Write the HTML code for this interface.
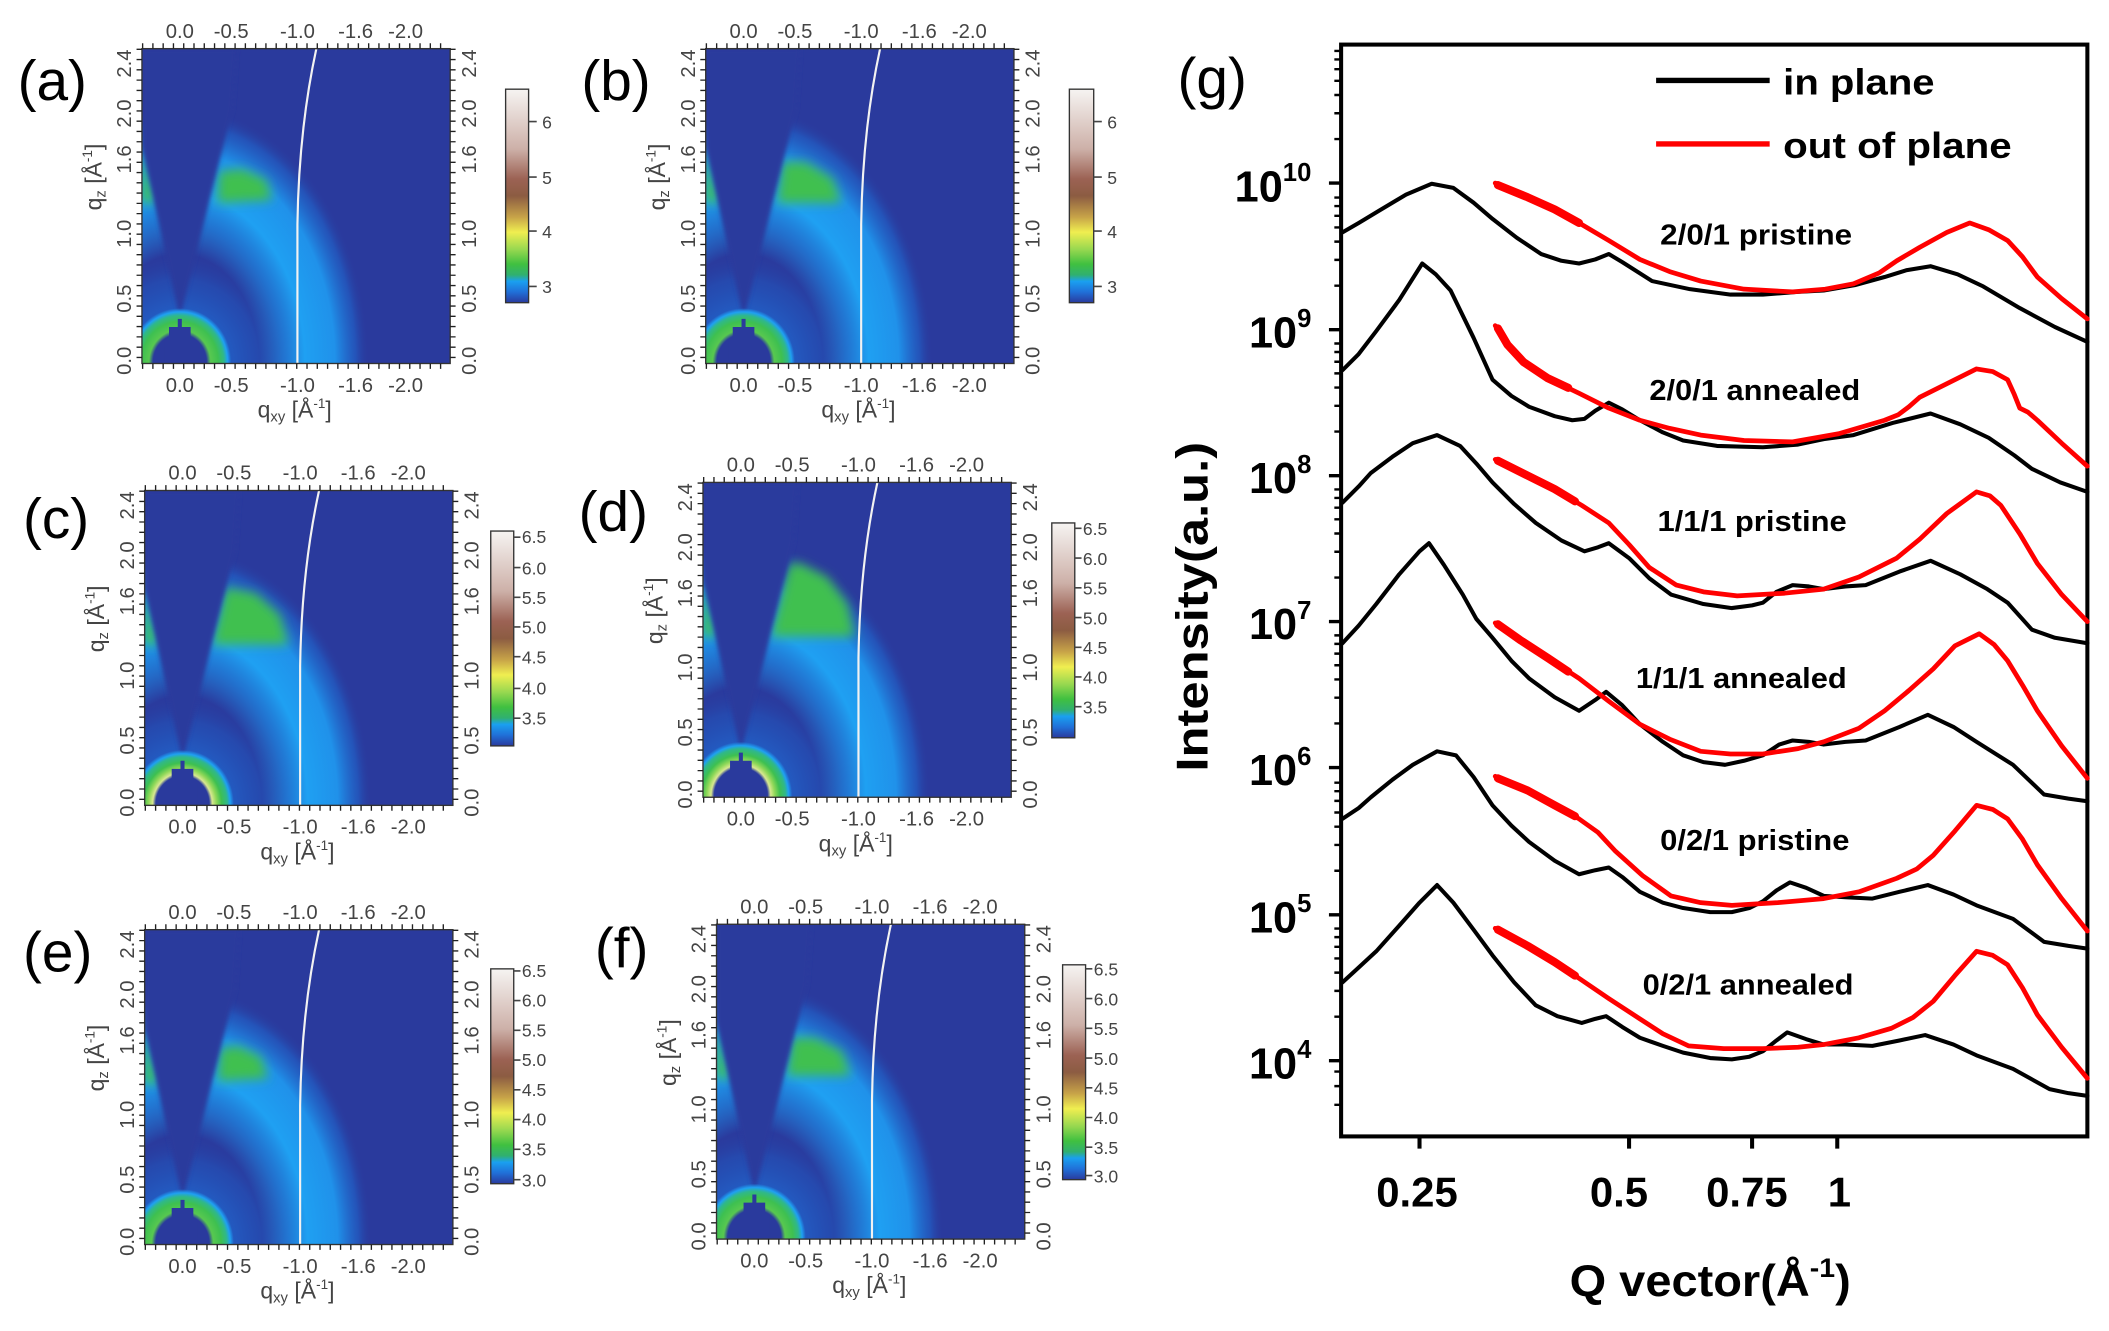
<!DOCTYPE html>
<html><head><meta charset="utf-8"><style>
html,body{margin:0;padding:0;background:#fff;width:2109px;height:1331px;overflow:hidden;}
svg{display:block;}
text{font-family:"Liberation Sans",Arial,sans-serif;}
.tl{font-size:15px;fill:#444;text-anchor:middle;}
.pl{font-size:42px;fill:#000;}
.cb{font-size:13px;fill:#444;}
.gb{font-weight:bold;fill:#000;}
</style></head><body>
<svg width="2109" height="1331" viewBox="0 0 1560 985" preserveAspectRatio="none" xmlns="http://www.w3.org/2000/svg" xmlns:xlink="http://www.w3.org/1999/xlink">
<defs>
<clipPath id="pc"><rect x="0" y="0" width="228" height="233"/></clipPath>
<filter id="bl" x="-30%" y="-30%" width="160%" height="160%"><feGaussianBlur stdDeviation="4"/></filter>
<filter id="bl2" x="-30%" y="-30%" width="160%" height="160%"><feGaussianBlur stdDeviation="1.5"/></filter>
<radialGradient id="ringG">
<stop offset="0" stop-color="#1fa0f2" stop-opacity="0"/>
<stop offset="0.42" stop-color="#1fa0f2" stop-opacity="0"/>
<stop offset="0.55" stop-color="#1e8ce6" stop-opacity="0.7"/>
<stop offset="0.66" stop-color="#1fa0f2" stop-opacity="1"/>
<stop offset="0.82" stop-color="#1f96ee" stop-opacity="0.95"/>
<stop offset="0.93" stop-color="#2065cc" stop-opacity="0.6"/>
<stop offset="1" stop-color="#2a3a9d" stop-opacity="0"/>
</radialGradient>
<radialGradient id="halo">
<stop offset="0.4" stop-color="#1f70d8" stop-opacity="0.7"/>
<stop offset="0.75" stop-color="#1f60c8" stop-opacity="0.4"/>
<stop offset="1" stop-color="#2a3a9d" stop-opacity="0"/>
</radialGradient>
<radialGradient id="srG">
<stop offset="0" stop-color="#2a3a9d"/>
<stop offset="0.52" stop-color="#2a3a9d"/>
<stop offset="0.6" stop-color="#58c850"/>
<stop offset="0.75" stop-color="#3ec050"/>
<stop offset="0.86" stop-color="#2fb88a"/>
<stop offset="0.93" stop-color="#1fa0f2"/>
<stop offset="1" stop-color="#1fa0f2" stop-opacity="0"/>
</radialGradient>
<radialGradient id="srY">
<stop offset="0" stop-color="#2a3a9d"/>
<stop offset="0.52" stop-color="#2a3a9d"/>
<stop offset="0.58" stop-color="#d8e890"/>
<stop offset="0.66" stop-color="#90d858"/>
<stop offset="0.76" stop-color="#3ec050"/>
<stop offset="0.87" stop-color="#2fb88a"/>
<stop offset="0.93" stop-color="#1fa0f2"/>
<stop offset="1" stop-color="#1fa0f2" stop-opacity="0"/>
</radialGradient>
<linearGradient id="cbg" x1="0" y1="0" x2="0" y2="1">
<stop offset="0" stop-color="#f6f4f2"/>
<stop offset="0.28" stop-color="#cdb0a8"/>
<stop offset="0.42" stop-color="#9c6254"/>
<stop offset="0.5" stop-color="#8c5c42"/>
<stop offset="0.6" stop-color="#c8a448"/>
<stop offset="0.67" stop-color="#f0ee50"/>
<stop offset="0.75" stop-color="#98d850"/>
<stop offset="0.82" stop-color="#40c040"/>
<stop offset="0.87" stop-color="#30b070"/>
<stop offset="0.9" stop-color="#1aa0f0"/>
<stop offset="0.95" stop-color="#2070d8"/>
<stop offset="1" stop-color="#2a3a9d"/>
</linearGradient>
<g id="base">
<rect x="0" y="0" width="228" height="233" fill="#2a3a9d"/>
<ellipse cx="28" cy="232" rx="78" ry="82" fill="url(#halo)"/>
<ellipse cx="28" cy="232" rx="140" ry="190" fill="url(#ringG)"/>
<polygon points="0,114 10,114 0,73" fill="#40c050" filter="url(#bl)"/>
</g>
<g id="wedge">
<polygon points="28,200 0,73 0,0 70,0 67,45" fill="#2a3a9d" filter="url(#bl2)"/>
</g>
<g id="top">
<line x1="28" y1="200" x2="28" y2="233" stroke="#2a3a9d" stroke-width="3"/>
<polygon points="17,233 17,215 20,215 20,206 36,206 36,215 39,215 39,233" fill="#2a3a9d"/>
<path d="M115,233 L115,130 Q116,60 129,0" fill="none" stroke="#f2f2f2" stroke-width="1.6"/>
</g>
<g id="frame">
<rect x="0" y="0" width="228" height="233" fill="none" stroke="#333" stroke-width="1"/>
<line x1="0" y1="-2" x2="228" y2="-2" stroke="#222" stroke-width="4" stroke-dasharray="1 6.6"/>
<line x1="0" y1="235" x2="228" y2="235" stroke="#222" stroke-width="4" stroke-dasharray="1 6.6"/>
<line x1="-2" y1="0" x2="-2" y2="233" stroke="#222" stroke-width="4" stroke-dasharray="1 6.6"/>
<line x1="230" y1="0" x2="230" y2="233" stroke="#222" stroke-width="4" stroke-dasharray="1 6.6"/>
</g>
</defs>

<!-- Panel a -->
<g transform="translate(105,36)">
<g clip-path="url(#pc)"><use xlink:href="#base"/>
<polygon points="56,114 96,112 92,97 74,89 57,91" fill="#40c050" filter="url(#bl)"/>
<use xlink:href="#wedge"/><ellipse cx="28" cy="232" rx="38" ry="40" fill="url(#srG)"/><use xlink:href="#top"/></g>
<use xlink:href="#frame"/>
<g class="tl"><text x="28" y="-8">0.0</text><text x="66" y="-8">-0.5</text><text x="115" y="-8">-1.0</text><text x="158" y="-8">-1.6</text><text x="195" y="-8">-2.0</text>
<text x="28" y="254">0.0</text><text x="66" y="254">-0.5</text><text x="115" y="254">-1.0</text><text x="158" y="254">-1.6</text><text x="195" y="254">-2.0</text>
<text transform="translate(-8,231) rotate(-90)">0.0</text><text transform="translate(-8,185) rotate(-90)">0.5</text><text transform="translate(-8,137) rotate(-90)">1.0</text><text transform="translate(-8,82) rotate(-90)">1.6</text><text transform="translate(-8,48) rotate(-90)">2.0</text><text transform="translate(-8,11) rotate(-90)">2.4</text>
<text transform="translate(247,231) rotate(-90)">0.0</text><text transform="translate(247,185) rotate(-90)">0.5</text><text transform="translate(247,137) rotate(-90)">1.0</text><text transform="translate(247,82) rotate(-90)">1.6</text><text transform="translate(247,48) rotate(-90)">2.0</text><text transform="translate(247,11) rotate(-90)">2.4</text>
<text x="113" y="273" style="font-size:17px">q<tspan dy="3" font-size="11">xy</tspan><tspan dy="-3"> [Å</tspan><tspan dy="-7" font-size="10">-1</tspan><tspan dy="7">]</tspan></text>
<text transform="translate(-30,95) rotate(-90)" style="font-size:17px">q<tspan dy="3" font-size="11">z</tspan><tspan dy="-3"> [Å</tspan><tspan dy="-7" font-size="10">-1</tspan><tspan dy="7">]</tspan></text></g>
</g>
<text class="pl" x="13" y="74">(a)</text>

<!-- Panel b -->
<g transform="translate(522,36)">
<g clip-path="url(#pc)"><use xlink:href="#base"/>
<polygon points="53,114 100,114 94,96 74,84 57,84" fill="#40c050" filter="url(#bl)"/>
<use xlink:href="#wedge"/><ellipse cx="28" cy="232" rx="38" ry="40" fill="url(#srG)"/><use xlink:href="#top"/></g>
<use xlink:href="#frame"/>
<g class="tl"><text x="28" y="-8">0.0</text><text x="66" y="-8">-0.5</text><text x="115" y="-8">-1.0</text><text x="158" y="-8">-1.6</text><text x="195" y="-8">-2.0</text>
<text x="28" y="254">0.0</text><text x="66" y="254">-0.5</text><text x="115" y="254">-1.0</text><text x="158" y="254">-1.6</text><text x="195" y="254">-2.0</text>
<text transform="translate(-8,231) rotate(-90)">0.0</text><text transform="translate(-8,185) rotate(-90)">0.5</text><text transform="translate(-8,137) rotate(-90)">1.0</text><text transform="translate(-8,82) rotate(-90)">1.6</text><text transform="translate(-8,48) rotate(-90)">2.0</text><text transform="translate(-8,11) rotate(-90)">2.4</text>
<text transform="translate(247,231) rotate(-90)">0.0</text><text transform="translate(247,185) rotate(-90)">0.5</text><text transform="translate(247,137) rotate(-90)">1.0</text><text transform="translate(247,82) rotate(-90)">1.6</text><text transform="translate(247,48) rotate(-90)">2.0</text><text transform="translate(247,11) rotate(-90)">2.4</text>
<text x="113" y="273" style="font-size:17px">q<tspan dy="3" font-size="11">xy</tspan><tspan dy="-3"> [Å</tspan><tspan dy="-7" font-size="10">-1</tspan><tspan dy="7">]</tspan></text>
<text transform="translate(-30,95) rotate(-90)" style="font-size:17px">q<tspan dy="3" font-size="11">z</tspan><tspan dy="-3"> [Å</tspan><tspan dy="-7" font-size="10">-1</tspan><tspan dy="7">]</tspan></text></g>
</g>
<text class="pl" x="430" y="74">(b)</text>

<!-- Panel c -->
<g transform="translate(107,363)">
<g clip-path="url(#pc)"><use xlink:href="#base"/>
<polygon points="50,114 106,114 100,92 82,76 60,72" fill="#40c050" filter="url(#bl)"/>
<use xlink:href="#wedge"/><ellipse cx="28" cy="232" rx="38" ry="40" fill="url(#srY)"/><use xlink:href="#top"/></g>
<use xlink:href="#frame"/>
<g class="tl"><text x="28" y="-8">0.0</text><text x="66" y="-8">-0.5</text><text x="115" y="-8">-1.0</text><text x="158" y="-8">-1.6</text><text x="195" y="-8">-2.0</text>
<text x="28" y="254">0.0</text><text x="66" y="254">-0.5</text><text x="115" y="254">-1.0</text><text x="158" y="254">-1.6</text><text x="195" y="254">-2.0</text>
<text transform="translate(-8,231) rotate(-90)">0.0</text><text transform="translate(-8,185) rotate(-90)">0.5</text><text transform="translate(-8,137) rotate(-90)">1.0</text><text transform="translate(-8,82) rotate(-90)">1.6</text><text transform="translate(-8,48) rotate(-90)">2.0</text><text transform="translate(-8,11) rotate(-90)">2.4</text>
<text transform="translate(247,231) rotate(-90)">0.0</text><text transform="translate(247,185) rotate(-90)">0.5</text><text transform="translate(247,137) rotate(-90)">1.0</text><text transform="translate(247,82) rotate(-90)">1.6</text><text transform="translate(247,48) rotate(-90)">2.0</text><text transform="translate(247,11) rotate(-90)">2.4</text>
<text x="113" y="273" style="font-size:17px">q<tspan dy="3" font-size="11">xy</tspan><tspan dy="-3"> [Å</tspan><tspan dy="-7" font-size="10">-1</tspan><tspan dy="7">]</tspan></text>
<text transform="translate(-30,95) rotate(-90)" style="font-size:17px">q<tspan dy="3" font-size="11">z</tspan><tspan dy="-3"> [Å</tspan><tspan dy="-7" font-size="10">-1</tspan><tspan dy="7">]</tspan></text></g>
</g>
<text class="pl" x="17" y="398">(c)</text>

<!-- Panel d -->
<g transform="translate(520,357)">
<g clip-path="url(#pc)"><use xlink:href="#base"/>
<polygon points="50,114 112,114 107,90 92,70 72,60 64,60" fill="#40c050" filter="url(#bl)"/>
<use xlink:href="#wedge"/><ellipse cx="28" cy="232" rx="38" ry="40" fill="url(#srY)"/><use xlink:href="#top"/></g>
<use xlink:href="#frame"/>
<g class="tl"><text x="28" y="-8">0.0</text><text x="66" y="-8">-0.5</text><text x="115" y="-8">-1.0</text><text x="158" y="-8">-1.6</text><text x="195" y="-8">-2.0</text>
<text x="28" y="254">0.0</text><text x="66" y="254">-0.5</text><text x="115" y="254">-1.0</text><text x="158" y="254">-1.6</text><text x="195" y="254">-2.0</text>
<text transform="translate(-8,231) rotate(-90)">0.0</text><text transform="translate(-8,185) rotate(-90)">0.5</text><text transform="translate(-8,137) rotate(-90)">1.0</text><text transform="translate(-8,82) rotate(-90)">1.6</text><text transform="translate(-8,48) rotate(-90)">2.0</text><text transform="translate(-8,11) rotate(-90)">2.4</text>
<text transform="translate(247,231) rotate(-90)">0.0</text><text transform="translate(247,185) rotate(-90)">0.5</text><text transform="translate(247,137) rotate(-90)">1.0</text><text transform="translate(247,82) rotate(-90)">1.6</text><text transform="translate(247,48) rotate(-90)">2.0</text><text transform="translate(247,11) rotate(-90)">2.4</text>
<text x="113" y="273" style="font-size:17px">q<tspan dy="3" font-size="11">xy</tspan><tspan dy="-3"> [Å</tspan><tspan dy="-7" font-size="10">-1</tspan><tspan dy="7">]</tspan></text>
<text transform="translate(-30,95) rotate(-90)" style="font-size:17px">q<tspan dy="3" font-size="11">z</tspan><tspan dy="-3"> [Å</tspan><tspan dy="-7" font-size="10">-1</tspan><tspan dy="7">]</tspan></text></g>
</g>
<text class="pl" x="428" y="393">(d)</text>

<!-- Panel e -->
<g transform="translate(107,688)">
<g clip-path="url(#pc)"><use xlink:href="#base"/>
<polygon points="54,112 91,110 86,94 69,86 56,88" fill="#40c050" filter="url(#bl)"/>
<use xlink:href="#wedge"/><ellipse cx="28" cy="232" rx="38" ry="40" fill="url(#srG)"/><use xlink:href="#top"/></g>
<use xlink:href="#frame"/>
<g class="tl"><text x="28" y="-8">0.0</text><text x="66" y="-8">-0.5</text><text x="115" y="-8">-1.0</text><text x="158" y="-8">-1.6</text><text x="195" y="-8">-2.0</text>
<text x="28" y="254">0.0</text><text x="66" y="254">-0.5</text><text x="115" y="254">-1.0</text><text x="158" y="254">-1.6</text><text x="195" y="254">-2.0</text>
<text transform="translate(-8,231) rotate(-90)">0.0</text><text transform="translate(-8,185) rotate(-90)">0.5</text><text transform="translate(-8,137) rotate(-90)">1.0</text><text transform="translate(-8,82) rotate(-90)">1.6</text><text transform="translate(-8,48) rotate(-90)">2.0</text><text transform="translate(-8,11) rotate(-90)">2.4</text>
<text transform="translate(247,231) rotate(-90)">0.0</text><text transform="translate(247,185) rotate(-90)">0.5</text><text transform="translate(247,137) rotate(-90)">1.0</text><text transform="translate(247,82) rotate(-90)">1.6</text><text transform="translate(247,48) rotate(-90)">2.0</text><text transform="translate(247,11) rotate(-90)">2.4</text>
<text x="113" y="273" style="font-size:17px">q<tspan dy="3" font-size="11">xy</tspan><tspan dy="-3"> [Å</tspan><tspan dy="-7" font-size="10">-1</tspan><tspan dy="7">]</tspan></text>
<text transform="translate(-30,95) rotate(-90)" style="font-size:17px">q<tspan dy="3" font-size="11">z</tspan><tspan dy="-3"> [Å</tspan><tspan dy="-7" font-size="10">-1</tspan><tspan dy="7">]</tspan></text></g>
</g>
<text class="pl" x="17" y="719">(e)</text>

<!-- Panel f -->
<g transform="translate(530,684)">
<g clip-path="url(#pc)"><use xlink:href="#base"/>
<polygon points="52,112 99,112 93,94 73,84 56,84" fill="#40c050" filter="url(#bl)"/>
<use xlink:href="#wedge"/><ellipse cx="28" cy="232" rx="38" ry="40" fill="url(#srG)"/><use xlink:href="#top"/></g>
<use xlink:href="#frame"/>
<g class="tl"><text x="28" y="-8">0.0</text><text x="66" y="-8">-0.5</text><text x="115" y="-8">-1.0</text><text x="158" y="-8">-1.6</text><text x="195" y="-8">-2.0</text>
<text x="28" y="254">0.0</text><text x="66" y="254">-0.5</text><text x="115" y="254">-1.0</text><text x="158" y="254">-1.6</text><text x="195" y="254">-2.0</text>
<text transform="translate(-8,231) rotate(-90)">0.0</text><text transform="translate(-8,185) rotate(-90)">0.5</text><text transform="translate(-8,137) rotate(-90)">1.0</text><text transform="translate(-8,82) rotate(-90)">1.6</text><text transform="translate(-8,48) rotate(-90)">2.0</text><text transform="translate(-8,11) rotate(-90)">2.4</text>
<text transform="translate(247,231) rotate(-90)">0.0</text><text transform="translate(247,185) rotate(-90)">0.5</text><text transform="translate(247,137) rotate(-90)">1.0</text><text transform="translate(247,82) rotate(-90)">1.6</text><text transform="translate(247,48) rotate(-90)">2.0</text><text transform="translate(247,11) rotate(-90)">2.4</text>
<text x="113" y="273" style="font-size:17px">q<tspan dy="3" font-size="11">xy</tspan><tspan dy="-3"> [Å</tspan><tspan dy="-7" font-size="10">-1</tspan><tspan dy="7">]</tspan></text>
<text transform="translate(-30,95) rotate(-90)" style="font-size:17px">q<tspan dy="3" font-size="11">z</tspan><tspan dy="-3"> [Å</tspan><tspan dy="-7" font-size="10">-1</tspan><tspan dy="7">]</tspan></text></g>
</g>
<text class="pl" x="440" y="716">(f)</text>

<!-- Colorbars -->
<g stroke="#333" stroke-width="1">
<rect x="374" y="66" width="17" height="158" fill="url(#cbg)"/>
<rect x="791" y="66" width="18" height="158" fill="url(#cbg)"/>
<rect x="363" y="393" width="17" height="159" fill="url(#cbg)"/>
<rect x="778" y="387" width="17" height="159" fill="url(#cbg)"/>
<rect x="363" y="717" width="17" height="159" fill="url(#cbg)"/>
<rect x="786" y="714" width="17" height="159" fill="url(#cbg)"/>
</g>
<g stroke="#444" stroke-width="1.2">
<path d="M391,90h6M391,131h6M391,171h6M391,212h6"/>
<path d="M809,90h6M809,131h6M809,171h6M809,212h6"/>
<path d="M380,397.5h5M380,420h5M380,442h5M380,464h5M380,486h5M380,509.5h5M380,531.5h5"/>
<path d="M795,391h5M795,413h5M795,435h5M795,457h5M795,479h5M795,501h5M795,523h5"/>
<path d="M380,718.5h5M380,740.5h5M380,762.5h5M380,784.5h5M380,806.5h5M380,828.5h5M380,850.5h5M380,873h5"/>
<path d="M803,717h5M803,739h5M803,761h5M803,783h5M803,805h5M803,827h5M803,849h5M803,870h5"/>
</g>
<g class="cb">
<text x="401" y="95">6</text><text x="401" y="136">5</text><text x="401" y="176">4</text><text x="401" y="217">3</text>
<text x="819" y="95">6</text><text x="819" y="136">5</text><text x="819" y="176">4</text><text x="819" y="217">3</text>
<text x="386" y="402">6.5</text><text x="386" y="425">6.0</text><text x="386" y="447">5.5</text><text x="386" y="469">5.0</text><text x="386" y="491">4.5</text><text x="386" y="514">4.0</text><text x="386" y="536">3.5</text>
<text x="801" y="396">6.5</text><text x="801" y="418">6.0</text><text x="801" y="440">5.5</text><text x="801" y="462">5.0</text><text x="801" y="484">4.5</text><text x="801" y="506">4.0</text><text x="801" y="528">3.5</text>
<text x="386" y="723">6.5</text><text x="386" y="745">6.0</text><text x="386" y="767">5.5</text><text x="386" y="789">5.0</text><text x="386" y="811">4.5</text><text x="386" y="833">4.0</text><text x="386" y="855">3.5</text><text x="386" y="878">3.0</text>
<text x="809" y="722">6.5</text><text x="809" y="744">6.0</text><text x="809" y="766">5.5</text><text x="809" y="788">5.0</text><text x="809" y="810">4.5</text><text x="809" y="832">4.0</text><text x="809" y="854">3.5</text><text x="809" y="875">3.0</text>
</g>

<!-- Panel g -->
<text class="pl" x="871" y="72">(g)</text>
<rect x="992" y="33" width="552" height="808" fill="none" stroke="#000" stroke-width="3"/>
<g stroke="#000" stroke-width="2.5">
<path d="M983,135.5h9M983,244h9M983,352h9M983,460h9M983,568h9M983,677h9M983,785h9"/>
</g>
<g stroke="#000" stroke-width="1.8">
<path d="M987,102.9h5M987,83.8h5M987,70.3h5M987,59.8h5M987,51.2h5M987,44h5M987,37.7h5
M987,211.4h5M987,192.3h5M987,178.8h5M987,168.3h5M987,159.7h5M987,152.5h5M987,146.2h5
M987,319.4h5M987,300.3h5M987,286.8h5M987,276.3h5M987,267.7h5M987,260.5h5M987,254.2h5
M987,427.4h5M987,408.3h5M987,394.8h5M987,384.3h5M987,375.7h5M987,368.5h5M987,362.2h5
M987,535.4h5M987,516.3h5M987,502.8h5M987,492.3h5M987,483.7h5M987,476.5h5M987,470.2h5
M987,644.4h5M987,625.3h5M987,611.8h5M987,601.3h5M987,592.7h5M987,585.5h5M987,579.2h5
M987,752.4h5M987,733.3h5M987,719.8h5M987,709.3h5M987,700.7h5M987,693.5h5M987,687.2h5
M987,817.6h5M987,803.8h5M987,793h5"/>
</g>
<g stroke="#000" stroke-width="3"><path d="M1050,841v9M1205,841v9M1296,841v9M1359,841v9"/></g>
<g class="gb" style="font-size:32px" text-anchor="end">
<text x="970" y="149">10<tspan dy="-15" font-size="19">10</tspan></text>
<text x="970" y="257">10<tspan dy="-15" font-size="19">9</tspan></text>
<text x="970" y="365">10<tspan dy="-15" font-size="19">8</tspan></text>
<text x="970" y="473">10<tspan dy="-15" font-size="19">7</tspan></text>
<text x="970" y="581">10<tspan dy="-15" font-size="19">6</tspan></text>
<text x="970" y="690">10<tspan dy="-15" font-size="19">5</tspan></text>
<text x="970" y="798">10<tspan dy="-15" font-size="19">4</tspan></text>
</g>
<g class="gb" style="font-size:31px">
<text x="1018" y="893">0.25</text><text x="1176" y="893">0.5</text><text x="1262" y="893">0.75</text><text x="1352" y="893">1</text>
</g>
<text class="gb" style="font-size:33px" x="1161" y="959" textLength="208" lengthAdjust="spacingAndGlyphs">Q vector(Å<tspan dy="-14" font-size="20">-1</tspan><tspan dy="14">)</tspan></text>
<text class="gb" style="font-size:33px" transform="translate(893,449) rotate(-90)" text-anchor="middle" textLength="244" lengthAdjust="spacingAndGlyphs">Intensity(a.u.)</text>

<!-- legend -->
<line x1="1225" y1="59.5" x2="1309" y2="59.5" stroke="#000" stroke-width="4"/>
<line x1="1225" y1="106.5" x2="1309" y2="106.5" stroke="#f00" stroke-width="4"/>
<text class="gb" style="font-size:27px" x="1319" y="70" textLength="112" lengthAdjust="spacingAndGlyphs">in plane</text>
<text class="gb" style="font-size:27px" x="1319" y="117" textLength="169" lengthAdjust="spacingAndGlyphs">out of plane</text>

<g class="gb" style="font-size:21px">
<text x="1228" y="181" textLength="142" lengthAdjust="spacingAndGlyphs">2/0/1 pristine</text>
<text x="1220" y="296" textLength="156" lengthAdjust="spacingAndGlyphs">2/0/1 annealed</text>
<text x="1226" y="393" textLength="140" lengthAdjust="spacingAndGlyphs">1/1/1 pristine</text>
<text x="1210" y="509" textLength="156" lengthAdjust="spacingAndGlyphs">1/1/1 annealed</text>
<text x="1228" y="629" textLength="140" lengthAdjust="spacingAndGlyphs">0/2/1 pristine</text>
<text x="1215" y="736" textLength="156" lengthAdjust="spacingAndGlyphs">0/2/1 annealed</text>
</g>

<g fill="none" stroke-linejoin="round" stroke-linecap="round">
<g stroke="#000" stroke-width="3">
<polyline points="993,172 1005,165 1020,156 1040,144 1059,136 1075,139 1090,150 1104,162 1122,176 1140,188 1155,193 1168,195 1180,192 1190,188 1200,194 1222,208 1250,214 1280,218 1304,218 1330,216 1349,215 1372,211 1394,205 1410,200 1428,197 1448,203 1467,212 1494,228 1520,242 1544,253"/>
<polyline points="993,274 1005,262 1018,245 1035,222 1052,195 1062,203 1073,215 1090,250 1104,281 1118,293 1131,301 1150,308 1163,311 1172,310 1180,304 1190,298 1200,303 1213,311 1230,320 1245,326 1270,330 1304,331 1330,329 1349,325 1371,322 1400,313 1428,306 1450,314 1471,324 1490,337 1503,347 1524,357 1544,364"/>
<polyline points="993,372 1005,360 1014,350 1030,338 1045,328 1063,322 1080,330 1092,343 1104,357 1120,373 1136,387 1155,400 1172,408 1182,405 1190,402 1205,413 1220,428 1236,440 1260,447 1281,450 1296,448 1304,446 1314,438 1326,433 1338,434 1349,436 1365,434 1380,433 1405,423 1428,415 1450,425 1470,436 1485,446 1503,466 1520,472 1544,476"/>
<polyline points="993,476 1005,463 1018,447 1035,425 1050,408 1057,402 1068,418 1082,440 1092,458 1104,472 1118,489 1131,502 1150,516 1168,526 1180,518 1188,512 1200,522 1213,536 1230,549 1245,559 1260,564 1276,566 1290,563 1304,559 1316,551 1326,548 1338,549 1349,551 1365,549 1380,548 1405,538 1426,529 1445,538 1462,549 1489,566 1512,588 1530,591 1544,593"/>
<polyline points="993,606 1005,598 1014,590 1030,577 1045,566 1063,556 1077,559 1090,575 1104,596 1118,611 1131,623 1150,637 1168,647 1180,644 1190,642 1200,649 1213,660 1230,668 1245,672 1265,675 1281,675 1294,672 1304,667 1314,659 1324,653 1336,657 1349,663 1365,664 1385,665 1405,660 1426,655 1445,662 1462,670 1489,680 1512,697 1530,700 1544,702"/>
<polyline points="993,727 1005,716 1018,704 1035,685 1050,668 1063,655 1075,668 1090,688 1104,707 1120,727 1136,744 1152,752 1170,757 1180,754 1188,752 1200,760 1213,768 1230,774 1245,779 1265,783 1281,784 1294,782 1304,778 1314,770 1322,764 1336,769 1349,773 1365,773 1385,774 1405,770 1424,766 1445,773 1462,781 1489,791 1516,806 1530,809 1544,811"/>
</g>
<g stroke="#f00" stroke-width="3.5">
<polyline points="1106,135.5 1130,146 1150,155 1168,165 1190,178 1213,192 1235,201 1258,208 1290,214 1326,216 1350,214 1371,210 1390,202 1403,193 1420,183 1440,172 1457,165 1471,170 1485,178 1496,190 1507,205 1525,221 1544,236"/>
<polyline points="1106,241 1115,255 1127,268 1145,280 1168,291 1190,302 1213,311 1235,317 1258,322 1290,326 1326,327 1360,321 1394,311 1404,307 1412,301 1420,294 1440,284 1462,273 1474,275 1485,281 1490,292 1494,302 1500,305 1507,311 1525,328 1544,345"/>
<polyline points="1106,340 1130,352 1150,362 1170,374 1190,387 1205,403 1220,420 1240,433 1260,438 1285,441 1320,439 1349,436 1375,427 1403,413 1420,399 1440,380 1462,364 1472,367 1480,374 1494,395 1507,417 1525,440 1544,460"/>
<polyline points="1106,461 1125,474 1145,487 1168,502 1190,519 1213,536 1235,547 1258,556 1280,558 1304,558 1330,554 1349,549 1375,539 1394,526 1412,511 1430,495 1446,478 1464,469 1475,477 1485,489 1496,507 1507,526 1525,552 1544,576"/>
<polyline points="1106,574.5 1130,585 1150,596 1168,606 1182,616 1195,630 1215,648 1236,663 1258,668 1281,670 1315,668 1349,665 1375,660 1403,650 1418,643 1430,633 1446,615 1462,596 1474,599 1485,606 1496,621 1507,640 1525,665 1544,689"/>
<polyline points="1106,687 1130,700 1150,712 1168,724 1190,739 1213,754 1230,765 1249,774 1275,776 1304,776 1330,775 1349,773 1375,768 1399,761 1415,753 1430,741 1446,722 1462,704 1474,707 1485,714 1496,731 1507,751 1525,775 1544,798"/>
</g>
<g stroke="#f00" stroke-width="6">
<polyline points="1108,137 1130,146 1150,155 1168,165"/>
<polyline points="1108,243 1115,255 1127,268 1145,280 1160,287"/>
<polyline points="1108,341 1130,352 1150,362 1165,371"/>
<polyline points="1108,462 1125,474 1145,487 1160,497"/>
<polyline points="1108,576 1130,585 1150,596 1165,604"/>
<polyline points="1108,688 1130,700 1150,712 1165,722"/>
</g>
</g>
</svg>
</body></html>
